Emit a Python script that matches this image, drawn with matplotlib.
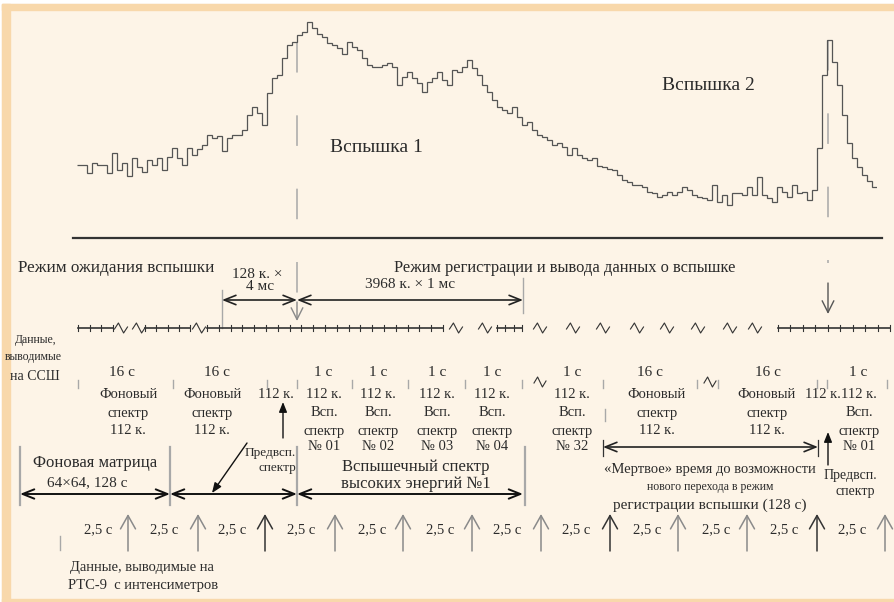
import numpy as np
import matplotlib
matplotlib.use("Agg")
import matplotlib.pyplot as plt
from matplotlib.patches import Rectangle

plt.rcParams['font.family'] = ['Liberation Serif', 'DejaVu Serif']

# ---------------- data ----------------
# light-curve counts (uniform time bins)
counts = [50, 50, 42, 52, 50, 50, 42, 62, 45, 52,
          39, 57, 48, 43, 55, 50, 57, 45, 58, 67,
          57, 50, 67, 60, 66, 70, 80, 77, 79, 64,
          77, 80, 80, 85, 100, 108, 102, 90, 122, 137,
          140, 157, 170, 173, 180, 183, 193, 187, 181, 178,
          172, 170, 167, 161, 173, 168, 165, 157, 150, 148,
          148, 150, 152, 148, 130, 138, 143, 137, 132, 123,
          133, 137, 143, 135, 130, 145, 143, 148, 155, 147,
          140, 130, 123, 115, 108, 105, 102, 108, 98, 90,
          93, 85, 80, 78, 75, 70, 72, 68, 60, 67,
          60, 57, 55, 57, 49, 48, 46, 45, 40, 35,
          33, 30, 30, 28, 23, 22, 18, 20, 23, 20,
          23, 28, 25, 20, 18, 17, 15, 30, 13, 20,
          10, 22, 22, 20, 28, 20, 38, 20, 17, 13,
          28, 23, 18, 30, 22, 23, 15, 25, 67, 140,
          175, 153, 130, 100, 72, 57, 48, 40, 34, 28]

burst_labels = ["Вспышка 1", "Вспышка 2"]
mode_labels = ["Режим ожидания вспышки", "Режим регистрации и вывода данных о вспышке"]
col_durations = ["16 с", "16 с", "1 с", "1 с", "1 с", "1 с", "1 с", "16 с", "16 с", "1 с"]
col_lines = [["Фоновый", "спектр", "112 к."],
             ["Фоновый", "спектр", "112 к."],
             ["112 к.", "Всп.", "спектр", "№ 01"],
             ["112 к.", "Всп.", "спектр", "№ 02"],
             ["112 к.", "Всп.", "спектр", "№ 03"],
             ["112 к.", "Всп.", "спектр", "№ 04"],
             ["112 к.", "Всп.", "спектр", "№ 32"],
             ["Фоновый", "спектр", "112 к."],
             ["Фоновый", "спектр", "112 к."],
             ["112 к.", "Всп.", "спектр", "№ 01"]]
pre_label = "112 к."
interval_label = "2,5 с"
n_intervals = 12

# ---------------- layout ----------------
W, H = 894, 602
BG = '#fdf4e7'
BORDER = '#f8d8ab'
TXT = '#2b2b2b'
LN = '#333333'
GR = '#a8a8a8'

fig = plt.figure(figsize=(W / 100, H / 100), dpi=100)
fig.patch.set_facecolor('white')
ax = fig.add_axes([0, 0, 1, 1])
ax.set_xlim(0, W)
ax.set_ylim(H, 0)
ax.axis('off')

ax.add_patch(Rectangle((2, 4), W, H, color=BG, zorder=0))
ax.add_patch(Rectangle((2, 4), W, 6, color=BORDER, zorder=0.5))
ax.add_patch(Rectangle((2, 4), 8, H, color=BORDER, zorder=0.5))
ax.add_patch(Rectangle((2, 599), W, 3, color=BORDER, zorder=0.5))


def txt(x, y, s, size=10.5, ha='center', **kw):
    ax.text(x, y, s, fontsize=size, ha=ha, va='center', color=TXT, **kw)


def dbl_arrow(x0, x1, y, color='#222222', lw=1.2):
    ax.annotate('', xy=(x1, y), xytext=(x0, y),
                arrowprops=dict(arrowstyle='<->,head_length=0.7,head_width=0.28',
                                color=color, lw=lw, shrinkA=0, shrinkB=0,
                                mutation_scale=12))


def arrow(x0, y0, x1, y1, color='#222222', lw=1.0, style='->,head_length=0.7,head_width=0.35'):
    ax.annotate('', xy=(x1, y1), xytext=(x0, y0),
                arrowprops=dict(arrowstyle=style, color=color, lw=lw,
                                shrinkA=0, shrinkB=0, mutation_scale=12))


def squiggle(cx, cy, w=13, h=5, color=LN):
    xs = [cx - w / 2, cx - w / 5, cx + w / 5, cx + w / 2]
    ys = [cy + 1, cy - h, cy + h, cy - 1]
    ax.plot(xs, ys, color=color, lw=0.8, solid_joinstyle='round')


# ---------------- light curve ----------------
cax = fig.add_axes([77 / W, 1 - 215 / H, 800 / W, 200 / H])
cax.patch.set_alpha(0)
cax.axis('off')
cax.set_xlim(0, len(counts))
cax.set_ylim(0, 200)
cax.stairs(counts, np.arange(len(counts) + 1), baseline=None,
           color='#555555', lw=0.9)

# dashed markers of burst triggers
ax.plot([297, 297], [42, 300], color=GR, lw=1.1, dashes=(20, 28))
ax.plot([828, 828], [40, 263], color=GR, lw=1.1, dashes=(20, 28))

txt(376, 148, burst_labels[0], size=14)
txt(708, 86, burst_labels[1], size=14)

ax.plot([73, 882], [238, 238], color=LN, lw=1.6)

# ---------------- modes ----------------
txt(116, 268, mode_labels[0], size=12.3)
txt(565, 268, mode_labels[1], size=11.9)
txt(257, 274, "128 к. ×", size=11)
txt(260, 287, "4 мс", size=11)
txt(410, 284, "3968 к. × 1 мс", size=11)

ax.plot([222, 222], [290, 328], color=GR, lw=1.0)
ax.plot([523, 523], [278, 313], color=GR, lw=1.0)
dbl_arrow(222, 297, 300)
dbl_arrow(297, 523, 300)
arrow(297, 302, 297, 321, color='#888888', lw=1.0)
arrow(828, 283, 828, 314, color='#555555', lw=1.0)

# ---------------- SSSh timeline ----------------
TY = 328
segments = [(78, 113, 4), (145, 190, 5), (207, 443, 21), (497, 522, 4), (778, 890, 10)]
for a, b, n in segments:
    ax.plot([a, b], [TY, TY], color=LN, lw=1.2)
    for t in np.linspace(a, b, n):
        ax.plot([t, t], [TY - 3, TY + 3], color=LN, lw=0.8)
for sx in [121, 139, 199, 456, 485, 540, 573, 603, 637, 667, 698, 730, 755]:
    squiggle(sx, TY)

txt(36, 340, "Данные,", size=8.5)
txt(33, 357, "выводимые", size=8.5)
txt(35, 376, "на ССШ", size=10)

# column separators
for sx in [78, 173, 267, 297, 352, 408, 465, 522, 603, 697, 718, 817, 827, 887]:
    ax.plot([sx, sx], [380, 388], color=GR, lw=1.0)
ax.plot([605, 605], [409, 421], color=GR, lw=1.0)
squiggle(540, 382, w=12, h=5)
squiggle(710, 382, w=12, h=5)

col_x = [128, 212, 324, 378, 437, 492, 572, 657, 767, 859]
dur_x = [122, 217, 323, 378, 437, 492, 572, 650, 768, 858]
row_y = [395, 413, 431, 446]
for cx, dx, dur, lines in zip(col_x, dur_x, col_durations, col_lines):
    txt(dx, 373, dur, size=11)
    for yy, s in zip(row_y, lines):
        txt(cx, yy, s, size=10.5)
txt(276, 395, pre_label, size=10.5)
txt(823, 395, pre_label, size=10.5)

arrow(283, 438, 283, 402, color='#111111', lw=1.0,
      style='-|>,head_length=0.5,head_width=0.2')
arrow(828, 465, 828, 432, color='#111111', lw=1.0,
      style='-|>,head_length=0.5,head_width=0.2')
txt(850, 475, "Предвсп.", size=10)
txt(855, 492, "спектр", size=10)

# ---------------- bottom bars ----------------
for vx in [20, 170, 297, 525]:
    ax.plot([vx, vx], [447, 505], color=GR, lw=1.6)
dbl_arrow(20, 170, 494, color='#111111', lw=1.4)
dbl_arrow(170, 297, 494, color='#111111', lw=1.4)
dbl_arrow(297, 523, 494, color='#111111', lw=1.4)
txt(95, 463, "Фоновая матрица", size=12)
txt(87, 483, "64×64, 128 с", size=11)
txt(270, 453, "Предвсп.", size=9.5)
txt(277, 468, "спектр", size=9.5)
arrow(247, 443, 212, 493, color='#111111', lw=1.0,
      style='-|>,head_length=0.5,head_width=0.2')
txt(416, 467, "Вспышечный спектр", size=12)
txt(416, 484, "высоких энергий №1", size=12)

ax.plot([603, 603], [440, 456], color=LN, lw=0.9)
ax.plot([818, 818], [440, 456], color=LN, lw=0.9)
dbl_arrow(603, 818, 447, color='#222222', lw=1.2)
txt(710, 470, "«Мертвое» время до возможности", size=10.5)
txt(710, 487, "нового перехода в режим", size=8.5)
txt(710, 505, "регистрации вспышки (128 с)", size=11)

# ---------------- RTS-9 intervals ----------------
lab_x = [98, 164, 232, 301, 372, 440, 507, 576, 647, 716, 784, 852]
arr_x = [128, 198, 265, 335, 403, 472, 541, 610, 678, 747, 817, 885]
dark = {265, 610, 817}
for i in range(n_intervals):
    txt(lab_x[i], 530, interval_label, size=10.5)
    c = '#333333' if arr_x[i] in dark else '#8a8a8a'
    arrow(arr_x[i], 551, arr_x[i], 514, color=c, lw=1.1,
          style='->,head_length=0.8,head_width=0.45')
ax.plot([60, 60], [536, 550], color=GR, lw=1.0)

txt(70, 567, "Данные, выводимые на", size=10.5, ha='left')
txt(68, 585, "РТС-9  с интенсиметров", size=10.5, ha='left')

fig.savefig('out.png', dpi=100, facecolor=fig.get_facecolor())
